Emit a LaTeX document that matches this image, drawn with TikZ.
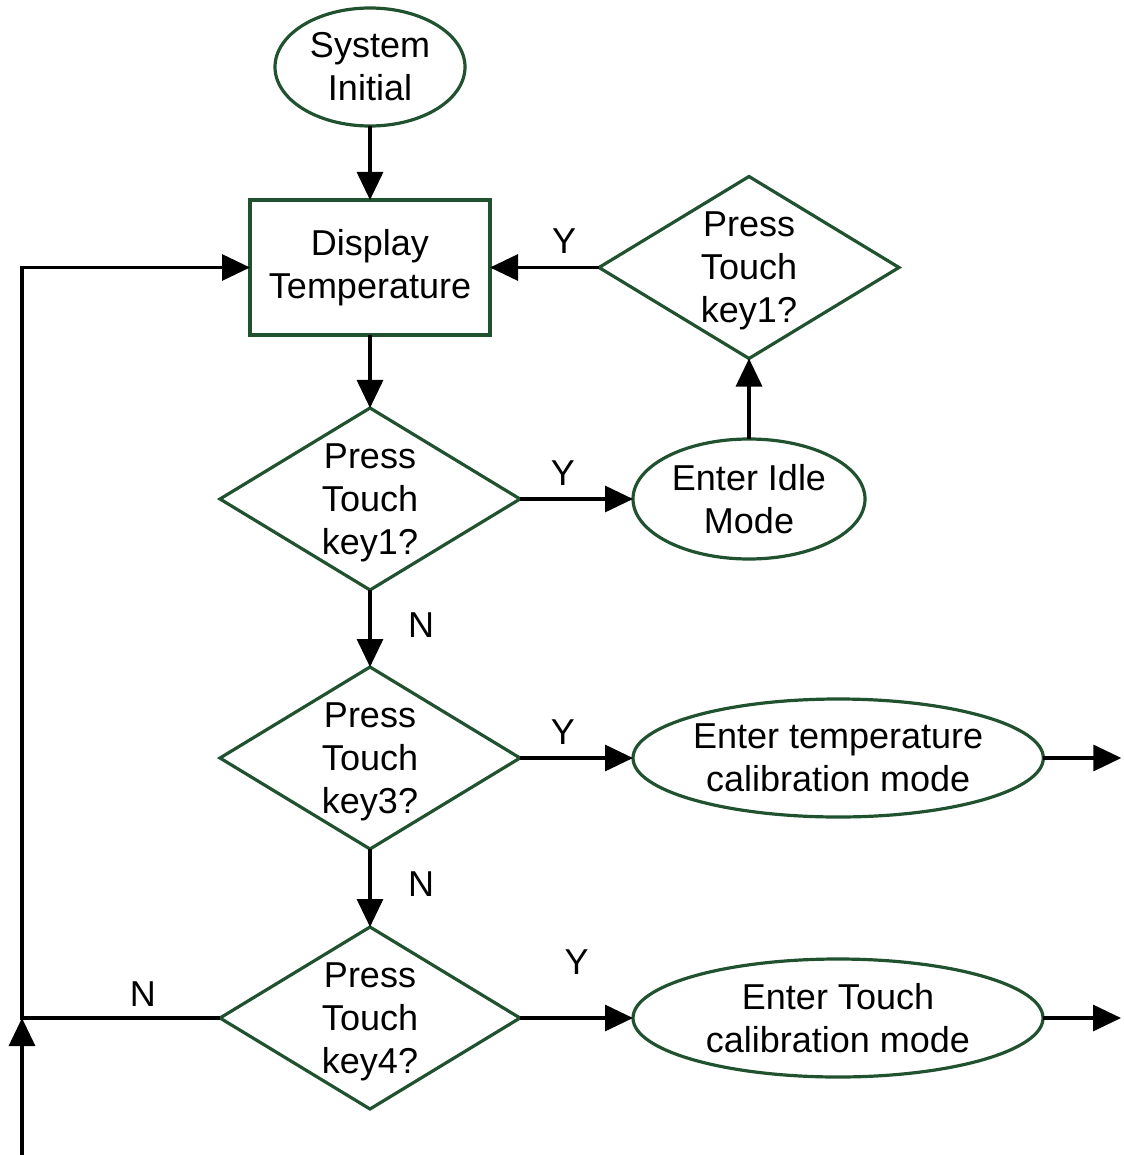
\documentclass[tikz,border=0pt]{standalone}
\usepackage{fontspec}
\setmainfont{Liberation Sans}
\usetikzlibrary{arrows.meta,positioning,shapes.geometric}
\definecolor{boxgreen}{RGB}{32,82,48}

\begin{document}
\begin{tikzpicture}[font=\fontsize{18}{21.5}\selectfont,line width=1.6pt,
 every node/.style={outer sep=0pt},
 term/.style={draw=boxgreen,ellipse,align=center,inner sep=0pt,minimum height=59pt},
 box/.style={draw=boxgreen,align=center,minimum width=120pt,minimum height=67.5pt},
 ask/.style={draw=boxgreen,diamond,align=center,inner sep=0pt,shape aspect=1.65,
  text depth=0pt,minimum width=150pt,minimum height=91pt},
 lbl/.style={inner sep=0pt},
 >={Triangle[length=14pt,width=13pt]}]
\useasboundingbox (0,0) rectangle (561.5pt,-577.5pt);
\node[term,minimum width=95pt] (init) at (185pt,-33.5pt) {System\\Initial};
\node[box,below=37pt of init] (disp) {Display\\Temperature};
\node[ask,below=36.5pt of disp] (k1) {Press\\Touch\\key1?};
\node[ask,below=38.5pt of k1] (k3) {Press\\Touch\\key3?};
\node[ask,below=39pt of k3] (k4) {Press\\Touch\\key4?};
\node[ask,right=54.5pt of disp] (pk) {Press\\Touch\\key1?};
\node[term,minimum width=116pt,minimum height=60pt,right=56.5pt of k1] (idle) {Enter Idle\\Mode};
\node[term,minimum width=205pt,right=56.5pt of k3] (tcal) {Enter temperature\\calibration mode};
\node[term,minimum width=205pt,right=56.5pt of k4] (ccal) {Enter Touch\\calibration mode};
\coordinate[right=39pt of tcal] (tout);
\coordinate[right=39pt of ccal] (cout);
\coordinate (lft) at (11pt,-577.5pt);
\draw[->] (init)--(disp);\draw[->] (disp)--(k1);
\draw[->] (k1)--node[lbl,pos=0.45,right=19pt]{N}(k3);
\draw[->] (k3)--node[lbl,pos=0.45,right=19pt]{N}(k4);
\draw[->] (k1)--node[lbl,pos=0.38,above=7pt]{Y}(idle);
\draw[->] (idle.north)--(idle |- pk.south);
\draw[->] (pk)--node[lbl,pos=0.32,above=7pt]{Y}(disp);
\draw[->] (k3)--node[lbl,pos=0.38,above=7pt]{Y}(tcal);
\draw[->] (k4)--node[lbl,pos=0.5,above=22pt]{Y}(ccal);
\draw[->] (tcal)--(tout);\draw[->] (ccal)--(cout);
\draw[->] (k4)--node[lbl,pos=0.39,above=6pt]{N}(lft |- k4)|-(disp);
\draw[->] (lft)--(lft |- k4);
\end{tikzpicture}
\end{document}
